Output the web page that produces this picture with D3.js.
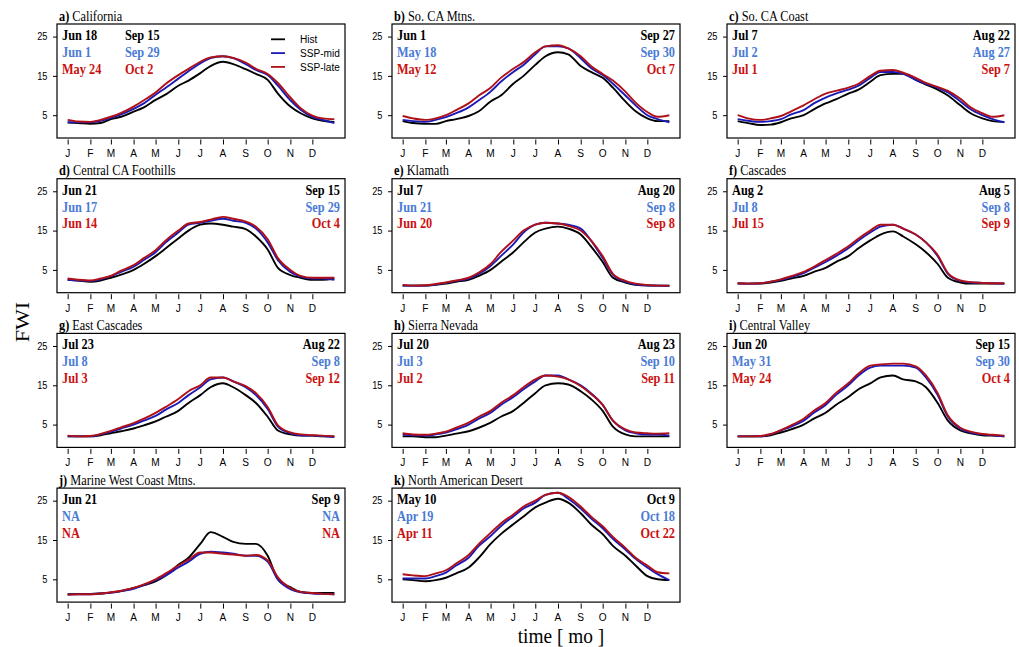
<!DOCTYPE html>
<html>
<head>
<meta charset="utf-8">
<script src="https://cdn.jsdelivr.net/npm/d3@7"></script>
<style>
body{margin:0;background:#fff;}
</style>
</head>
<body>
<svg id="chart" width="1019" height="647"></svg>
<script>
var sampleDays=[1,15,32,46,60,74,91,105,121,135,152,166,182,196,213,227,244,258,274,288,305,319,335,349,365];
var monthDays=[1,32,60,91,121,152,182,213,244,274,305,335];
var monthLabels=["J","F","M","A","M","J","J","A","S","O","N","D"];
var yTicks=[5,15,25];

var panelLetters=["a","b","c","d","e","f","g","h","i","j","k"];
var regionNames=["California","So. CA Mtns.","So. CA Coast","Central CA Foothills","Klamath","Cascades",
  "East Cascades","Sierra Nevada","Central Valley","Marine West Coast Mtns.","North American Desert"];
var seriesNames=["Hist","SSP-mid","SSP-late"];

var histFWI=[
 [3.1,3.0,2.8,3.0,4.0,4.6,5.9,7.0,8.9,10.3,12.5,13.8,15.7,17.5,18.6,18.0,16.7,15.5,14.0,10.5,7.2,5.5,4.2,3.6,3.3],
 [3.5,3.0,2.8,2.8,3.5,4.0,4.8,6.0,8.5,10.0,13.0,15.0,17.8,20.0,21.0,20.5,17.5,16.0,14.5,12.0,8.5,6.0,4.2,3.5,3.5],
 [3.5,3.0,2.5,2.6,3.2,4.2,5.0,6.5,8.0,9.0,10.5,11.5,13.5,15.2,15.5,15.5,14.0,12.8,11.5,10.0,7.5,5.5,4.2,3.5,3.3],
 [2.5,2.3,2.0,2.3,3.0,3.8,5.0,6.5,8.5,10.5,13.0,15.0,16.5,16.8,16.5,16.0,15.4,13.5,10.2,5.5,3.7,3.0,2.5,2.5,2.8],
 [1.0,1.0,1.0,1.2,1.5,2.0,2.5,3.5,5.0,7.0,9.5,12.0,14.5,15.5,16.0,15.5,14.0,11.0,7.0,3.0,1.8,1.2,1.0,1.0,1.0],
 [1.5,1.5,1.5,1.8,2.2,2.8,3.5,4.5,5.5,7.0,8.5,10.5,12.5,14.0,14.8,13.5,11.5,9.5,6.5,3.0,1.8,1.5,1.5,1.5,1.5],
 [2.0,2.0,2.0,2.3,2.8,3.3,4.0,4.8,5.8,7.0,8.5,10.5,12.5,14.5,15.5,14.5,12.5,10.5,7.0,3.5,2.5,2.2,2.2,2.0,2.0],
 [2.0,2.0,1.8,1.8,2.2,2.7,3.3,4.2,5.5,7.0,8.5,10.5,13.0,15.0,15.5,15.2,13.5,11.5,8.5,4.5,2.5,2.0,2.0,2.0,2.0],
 [2.0,2.0,2.0,2.3,3.0,3.8,5.0,6.5,8.0,10.0,12.0,14.0,15.5,17.0,17.5,16.5,16.0,14.5,10.5,6.0,3.5,2.8,2.3,2.2,2.0],
 [1.2,1.3,1.3,1.4,1.6,2.0,2.8,3.5,4.5,6.0,8.7,10.5,14.0,17.0,15.8,14.5,14.0,14.0,11.0,5.0,3.0,1.8,1.5,1.5,1.5],
 [5.0,4.8,4.5,4.8,5.4,6.5,8.0,10.5,14.0,16.5,19.0,21.0,23.3,24.5,25.5,24.5,21.8,19.0,16.5,13.5,11.0,8.5,5.8,5.0,4.8]
];
var midFWI=[
 [3.2,3.2,3.2,3.6,4.3,5.2,6.6,8.0,10.2,12.0,14.3,16.2,18.2,19.5,20.0,19.5,18.0,16.5,15.2,12.5,8.8,6.4,4.6,3.8,3.0],
 [3.8,3.5,3.3,3.8,4.5,5.5,7.0,8.8,11.0,13.5,16.0,17.8,20.5,22.5,22.5,22.0,19.5,17.0,15.2,13.0,10.0,7.5,5.0,4.0,3.2],
 [4.0,3.6,3.3,3.5,4.0,5.2,6.3,8.0,9.5,10.5,11.5,12.5,14.5,16.0,16.0,15.5,14.0,13.0,12.0,10.8,8.5,6.5,5.0,4.0,3.2],
 [2.5,2.3,2.2,2.6,3.4,4.5,5.8,7.5,9.5,12.0,14.5,16.5,17.0,17.5,18.0,17.5,17.0,15.5,12.0,7.5,4.5,3.3,2.8,2.8,2.5],
 [1.0,1.0,1.0,1.3,1.7,2.2,2.8,4.0,6.0,8.5,11.5,14.5,16.5,17.0,16.8,16.5,15.5,12.5,8.0,3.8,2.0,1.3,1.1,1.0,0.9],
 [1.6,1.5,1.6,2.0,2.5,3.2,4.2,5.5,7.0,8.5,10.5,12.5,14.5,16.0,16.5,15.5,14.0,12.0,8.5,4.0,2.2,1.8,1.7,1.6,1.5],
 [2.0,2.0,2.0,2.5,3.2,4.0,5.0,6.0,7.2,8.8,10.5,12.5,14.5,16.5,17.0,16.0,14.5,12.5,9.0,4.5,2.8,2.3,2.2,2.1,1.8],
 [2.5,2.3,2.2,2.5,3.0,3.8,5.0,6.5,8.0,10.0,12.0,14.0,16.0,17.5,17.5,16.5,15.0,13.0,10.0,6.0,3.5,2.8,2.5,2.5,2.2],
 [2.0,2.0,2.0,2.5,3.5,4.5,6.0,8.0,10.0,12.5,15.0,17.5,19.5,20.0,20.0,20.0,19.5,17.0,12.5,7.0,4.0,3.0,2.5,2.3,2.0],
 [1.1,1.2,1.2,1.4,1.6,2.0,2.6,3.5,4.8,6.0,8.0,9.5,11.5,12.0,11.8,11.5,11.0,11.0,9.5,5.0,2.5,1.7,1.4,1.3,1.2],
 [5.2,5.2,5.2,5.8,6.7,8.5,10.5,13.5,16.0,18.5,21.0,23.0,24.5,26.5,27.0,25.5,23.0,20.5,18.0,15.3,12.6,10.2,8.0,6.3,4.8]
];
var lateFWI=[
 [3.8,3.4,3.3,3.8,4.6,5.6,7.2,8.8,10.8,13.0,15.2,16.8,18.6,19.7,20.0,19.6,18.4,16.8,15.5,13.2,9.5,6.8,4.9,4.2,4.0],
 [4.8,4.2,3.8,4.2,5.0,6.3,8.0,10.0,12.0,14.5,16.8,18.5,21.0,22.5,22.8,22.0,20.0,17.5,15.5,13.8,11.0,8.2,5.8,4.6,5.0],
 [5.0,4.2,3.8,4.2,4.8,6.0,7.5,9.0,10.5,11.2,12.0,13.0,15.0,16.3,16.5,15.8,14.5,13.2,12.2,11.2,9.2,7.0,5.5,4.6,5.0],
 [2.8,2.5,2.3,2.8,3.5,4.8,6.2,8.0,10.0,12.5,15.0,16.8,17.2,17.8,18.5,18.0,17.3,16.0,12.8,8.0,5.0,3.5,3.0,3.0,3.0],
 [1.2,1.0,1.1,1.4,1.8,2.3,3.0,4.3,6.5,9.5,12.5,15.0,16.5,17.0,16.8,16.2,15.0,12.5,8.5,4.0,2.2,1.5,1.2,1.0,1.0],
 [1.6,1.5,1.6,2.0,2.6,3.4,4.5,5.8,7.5,9.0,11.0,13.0,15.0,16.5,16.5,15.5,14.0,12.0,8.8,4.2,2.3,1.9,1.7,1.6,1.6],
 [2.2,2.0,2.1,2.6,3.4,4.3,5.4,6.5,8.0,9.5,11.5,13.5,15.0,17.0,17.0,16.0,14.8,13.0,9.5,4.8,3.0,2.5,2.3,2.2,2.0],
 [2.8,2.5,2.4,2.7,3.2,4.2,5.5,7.0,8.5,10.5,12.5,14.5,16.5,17.5,17.2,16.5,14.8,12.8,10.0,6.0,3.8,3.0,2.8,2.7,2.8],
 [2.0,2.0,2.1,2.6,3.6,4.8,6.5,8.5,10.5,13.0,15.5,18.0,20.0,20.3,20.5,20.5,19.8,17.5,13.0,7.3,4.2,3.2,2.6,2.4,2.2],
 [1.1,1.2,1.2,1.4,1.7,2.1,2.8,3.7,5.0,6.5,8.5,10.0,11.8,11.8,11.5,11.3,11.0,11.2,9.8,5.5,2.8,1.8,1.5,1.3,1.2],
 [6.3,6.0,5.8,6.5,7.3,9.0,11.2,14.0,16.8,19.2,21.5,23.5,25.0,26.5,27.0,26.0,23.5,21.0,18.5,15.8,13.0,10.5,8.5,6.8,6.5]
];

// season start / end dates printed in each panel: [Hist, SSP-mid, SSP-late]
var startDates=[
 ["Jun 18","Jun 1","May 24"],["Jun 1","May 18","May 12"],["Jul 7","Jul 2","Jul 1"],
 ["Jun 21","Jun 17","Jun 14"],["Jul 7","Jun 21","Jun 20"],["Aug 2","Jul 8","Jul 15"],
 ["Jul 23","Jul 8","Jul 3"],["Jul 20","Jul 3","Jul 2"],["Jun 20","May 31","May 24"],
 ["Jun 21","NA","NA"],["May 10","Apr 19","Apr 11"]
];
var endDates=[
 ["Sep 15","Sep 29","Oct 2"],["Sep 27","Sep 30","Oct 7"],["Aug 22","Aug 27","Sep 7"],
 ["Sep 15","Sep 29","Oct 4"],["Aug 20","Sep 8","Sep 8"],["Aug 5","Sep 8","Sep 9"],
 ["Aug 22","Sep 8","Sep 12"],["Aug 23","Sep 10","Sep 11"],["Sep 15","Sep 30","Oct 4"],
 ["Sep 9","NA","NA"],["Oct 9","Oct 18","Oct 22"]
];

var lineColors=["#000000","#1a1ab8","#b01018"];
var textColors=["#000000","#4a7bd6","#cc1111"];
var SQ=0.88; // the figure is slightly narrowed horizontally
var serif="'Liberation Serif','Times New Roman',serif";
var sans="'Liberation Sans',Arial,Helvetica,sans-serif";

var svg=d3.select("#chart");
var W=288,H=114;

function txt(g,x,y,s){
  return g.append("text").attr("transform","translate("+x+","+y+") scale("+SQ+",1)").text(s);
}

function drawPanel(k){
  var col=k%3,row=Math.floor(k/3);
  var left=57+col*335,top=24+row*154.7;
  var g=svg.append("g").attr("transform","translate("+left+","+top+")");

  var x=d3.scaleLinear().domain([1-14.56,365+14.56]).range([0,W]);
  var y=d3.scaleLinear().domain([-0.8,28.2]).range([H,0]);

  var series=[histFWI[k],midFWI[k],lateFWI[k]];
  var line=d3.line()
    .x(function(d,i){return x(sampleDays[i])})
    .y(function(d){return y(d)})
    .curve(d3.curveMonotoneX);

  g.selectAll("path.fwi").data(series).enter().append("path")
    .attr("class","fwi")
    .attr("d",line)
    .attr("fill","none")
    .attr("stroke",function(d,i){return lineColors[i]})
    .attr("stroke-width",1.9);

  g.append("rect").attr("x",0).attr("y",0).attr("width",W).attr("height",H)
    .attr("fill","none").attr("stroke","#000").attr("stroke-width",1.2);

  // x axis: ticks only, no axis line
  var xa=g.append("g").attr("transform","translate(0,"+(H+1.5)+")")
    .call(d3.axisBottom(x).tickValues(monthDays).tickSize(5).tickFormat(function(d,i){return ""}));
  xa.select(".domain").remove();
  xa.selectAll("line").attr("stroke","#000");
  g.selectAll("text.mon").data(monthDays).enter().append("text")
    .attr("class","mon")
    .attr("transform",function(d){return "translate("+x(d)+","+(H+19)+") scale("+SQ+",1)"})
    .attr("text-anchor","middle").attr("font-family",sans).attr("font-size",11.5)
    .text(function(d,i){return monthLabels[i]});

  var ya=g.append("g")
    .call(d3.axisLeft(y).tickValues(yTicks).tickSize(4).tickFormat(""));
  ya.select(".domain").remove();
  ya.selectAll("line").attr("stroke","#000");
  g.selectAll("text.yl").data(yTicks).enter().append("text")
    .attr("class","yl")
    .attr("transform",function(d){return "translate(-9.5,"+(y(d)+3.7)+") scale("+SQ+",1)"})
    .attr("text-anchor","end").attr("font-family",sans).attr("font-size",10.5)
    .text(function(d){return d});

  // panel title
  var t=txt(g,2,-3.5,"").attr("font-family",serif).attr("font-size",14);
  t.append("tspan").attr("font-weight","bold").text(panelLetters[k]+")");
  t.append("tspan").text(" "+regionNames[k]);

  // start / end dates
  var rowsY=[16,33,49.5];
  for(var i=0;i<3;i++){
    txt(g,5,rowsY[i],startDates[k][i]).attr("font-family",serif).attr("font-weight","bold")
      .attr("font-size",14).attr("fill",textColors[i]);
    var e=(k==0)?txt(g,68,rowsY[i],endDates[k][i]):txt(g,W-5,rowsY[i],endDates[k][i]).attr("text-anchor","end");
    e.attr("font-family",serif).attr("font-weight","bold").attr("font-size",14).attr("fill",textColors[i]);
  }

  if(k==0){
    var lg=g.selectAll("g.leg").data(seriesNames).enter().append("g")
      .attr("class","leg")
      .attr("transform",function(d,i){return "translate(214,"+(15.3+i*13.8)+")"});
    lg.append("line").attr("x1",0).attr("x2",14).attr("y1",0).attr("y2",0)
      .attr("stroke",function(d,i){return lineColors[i]}).attr("stroke-width",1.8);
    lg.append("text").attr("transform","translate(29,4) scale("+SQ+",1)")
      .attr("font-family",sans).attr("font-size",11.5).text(function(d){return d});
  }
}

for(var k=0;k<regionNames.length;k++) drawPanel(k);

svg.append("text").attr("transform","translate(28.5,322) rotate(-90) scale(1,"+SQ+")")
  .attr("text-anchor","middle").attr("font-family",serif).attr("font-size",22).text("FWI");
svg.append("text").attr("transform","translate(561,643) scale("+SQ+",1)")
  .attr("text-anchor","middle").attr("font-family",serif).attr("font-size",22).text("time [ mo ]");
</script>
</body>
</html>
